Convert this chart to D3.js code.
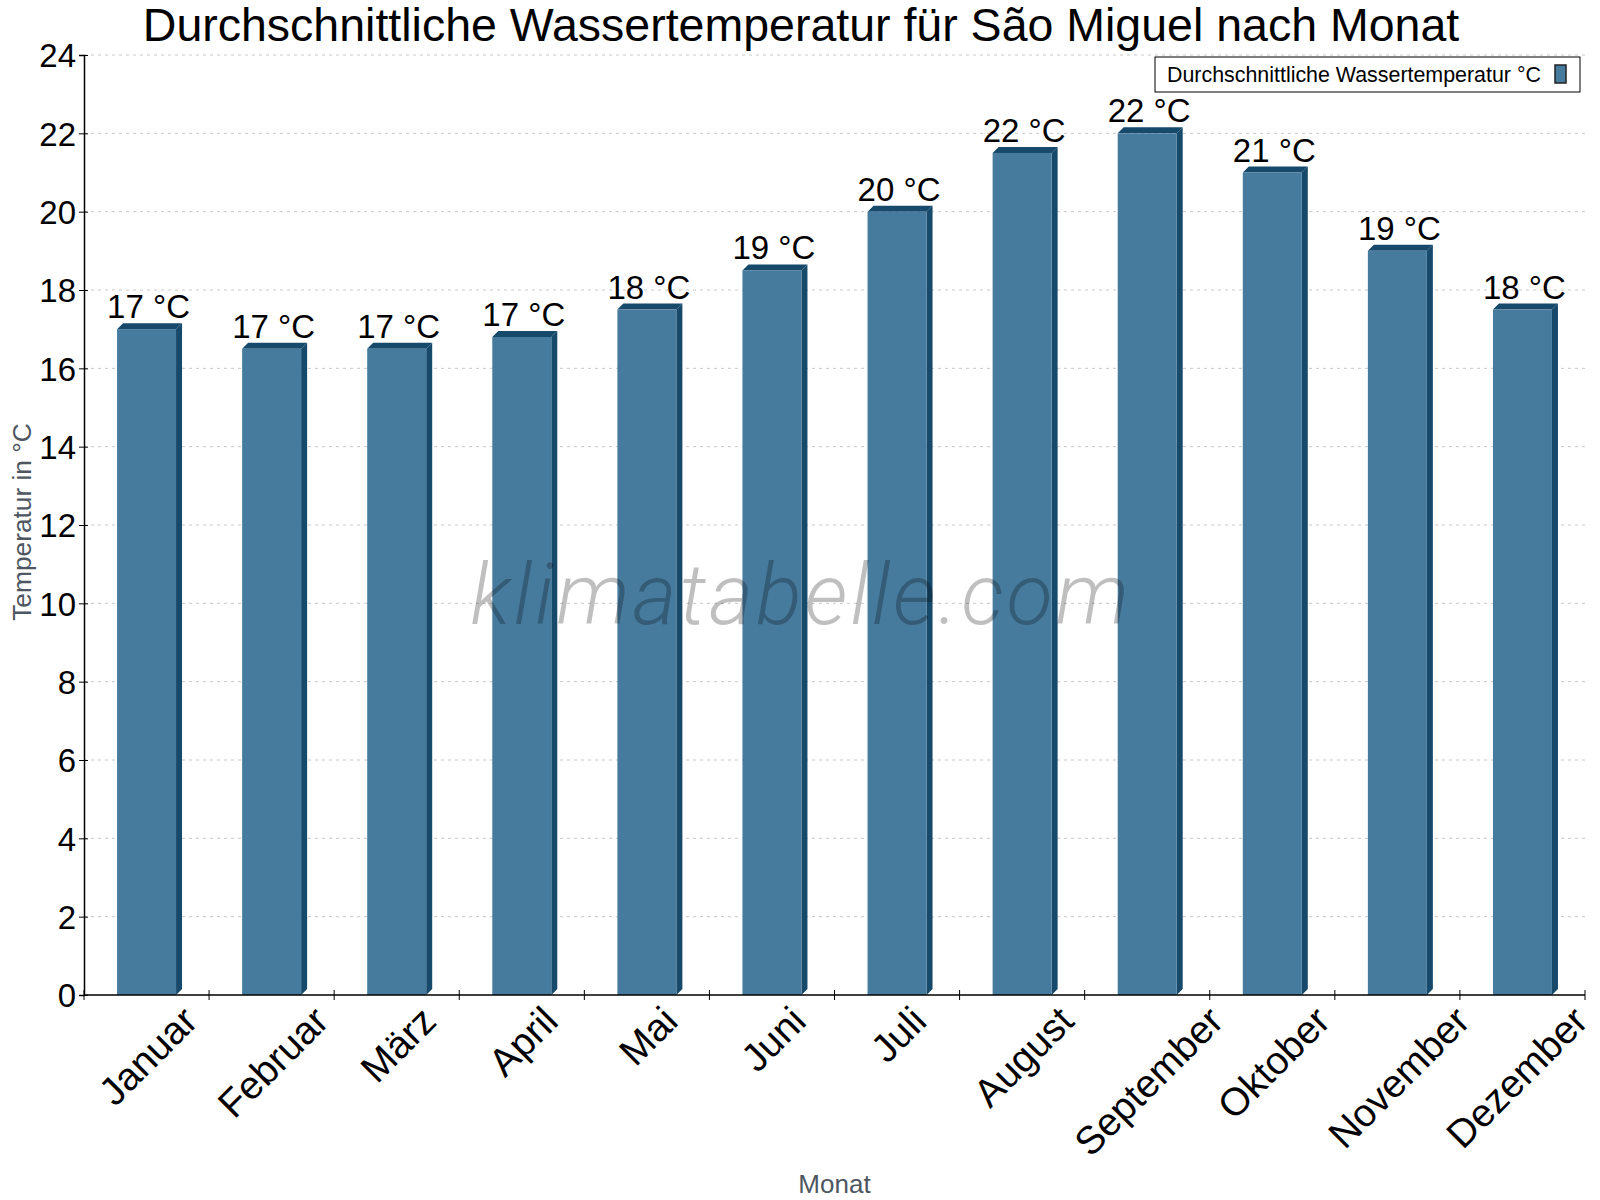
<!DOCTYPE html>
<html>
<head>
<meta charset="utf-8">
<script src="https://cdn.jsdelivr.net/npm/d3@7"></script>
<style>
  body { margin: 0; background: #ffffff; }
  svg { display: block; font-family: "Liberation Sans", Arial, sans-serif; }
</style>
</head>
<body>
<svg id="chart" width="1600" height="1200"></svg>
<script>
const months = ["Januar", "Februar", "März", "April", "Mai", "Juni", "Juli", "August", "September", "Oktober", "November", "Dezember"];
const waterTemp = [17, 16.5, 16.5, 16.8, 17.5, 18.5, 20, 21.5, 22, 21, 19, 17.5];
const yTicks = [0, 2, 4, 6, 8, 10, 12, 14, 16, 18, 20, 22, 24];
const titleText = "Durchschnittliche Wassertemperatur für São Miguel nach Monat";
const seriesName = "Durchschnittliche Wassertemperatur °C";

const svg = d3.select("#chart");
const plotLeft = 84, plotRight = 1585, plotTop = 55, plotBottom = 995;
const depth = 6;
const frontColor = "#467b9e";
const sideColor = "#17496b";

const x = d3.scaleBand().domain(months).range([plotLeft, plotRight]);
const y = d3.scaleLinear().domain([0, 24]).range([plotBottom, plotTop]);

// grid
svg.append("g")
  .selectAll("line")
  .data(yTicks.filter(d => d > 0))
  .join("line")
  .attr("x1", plotLeft).attr("x2", plotRight)
  .attr("y1", d => y(d)).attr("y2", d => y(d))
  .attr("stroke", "#c8c8c8")
  .attr("stroke-width", 1)
  .attr("stroke-dasharray", "3,4");

// bars
const barW = 59;
const bars = svg.append("g").selectAll("g").data(months).join("g");
bars.each(function (m, i) {
  const g = d3.select(this);
  const x0 = x(m) + x.bandwidth() / 2 - barW / 2;
  const x1 = x0 + barW;
  const yt = y(waterTemp[i]);
  g.append("polygon")
    .attr("points", [[x1, yt], [x1 + depth, yt - depth], [x1 + depth, plotBottom - depth], [x1, plotBottom]].join(" "))
    .attr("fill", sideColor);
  g.append("polygon")
    .attr("points", [[x0, yt], [x0 + depth, yt - depth], [x1 + depth, yt - depth], [x1, yt]].join(" "))
    .attr("fill", sideColor);
  g.append("rect")
    .attr("x", x0).attr("y", yt)
    .attr("width", barW).attr("height", plotBottom - yt)
    .attr("fill", frontColor);
  g.append("text")
    .attr("x", x0 + barW / 2 + 2)
    .attr("y", yt - 11)
    .attr("text-anchor", "middle")
    .style("font-size", "33px")
    .attr("fill", "#000")
    .text(Math.round(waterTemp[i]) + " °C");
});

// watermark (over the bars, semi transparent)
svg.append("text")
  .attr("x", 801).attr("y", 624)
  .attr("text-anchor", "middle")
  .style("font-family", "Roboto, 'Open Sans', sans-serif")
  .style("font-weight", 300)
  .style("font-style", "italic")
  .style("font-size", "85px")
  .style("letter-spacing", "2.9px")
  .attr("fill", "#000")
  .attr("fill-opacity", 0.25)
  .text("klimatabelle.com");

// y axis
const yAxis = svg.append("g")
  .attr("transform", `translate(${plotLeft},0)`)
  .call(d3.axisLeft(y).tickValues(yTicks).tickSize(5).tickPadding(3));
yAxis.select(".domain").attr("stroke", "#000").attr("stroke-width", 1.5);
yAxis.selectAll(".tick line").attr("x2", 4).attr("x1", -5).attr("stroke", "#000");
yAxis.selectAll(".tick text")
  .style("font-size", "33px")
  .style("font-family", "'Liberation Sans', Arial, sans-serif")
  .attr("fill", "#000")
  .attr("dy", "0.36em");

// x axis
const bounds = d3.range(months.length + 1).map(i => plotLeft + i * x.step());
svg.append("line")
  .attr("x1", plotLeft).attr("x2", plotRight)
  .attr("y1", plotBottom).attr("y2", plotBottom)
  .attr("stroke", "#000").attr("stroke-width", 1.5);
svg.append("g").selectAll("line").data(bounds).join("line")
  .attr("x1", d => d).attr("x2", d => d)
  .attr("y1", plotBottom - 5).attr("y2", plotBottom + 5)
  .attr("stroke", "#000");

// rotated month labels: box centred under the band, tops aligned
const labelSize = 39;
const c45 = Math.SQRT1_2;
svg.append("g").selectAll("text").data(months).join("text")
  .style("font-size", labelSize + "px")
  .attr("fill", "#000")
  .text(d => d)
  .attr("transform", function (d) {
    const L = this.getComputedTextLength();
    const half = c45 * (L + 0.716 * labelSize) / 2;
    const cx = Math.min(x(d) + x.bandwidth() / 2 + 1, 1590 - half);
    const ax = cx - c45 * (L - 0.716 * labelSize) / 2;
    const ay = plotBottom + 14 + c45 * (L + 0.52 * labelSize);
    return `translate(${ax},${ay}) rotate(-45)`;
  });

// axis titles
svg.append("text")
  .attr("transform", `translate(31,522) rotate(-90)`)
  .attr("text-anchor", "middle")
  .style("font-size", "26.3px")
  .attr("fill", "#4d5661")
  .text("Temperatur in °C");
svg.append("text")
  .attr("x", (plotLeft + plotRight) / 2).attr("y", 1193)
  .attr("text-anchor", "middle")
  .style("font-size", "26px")
  .attr("fill", "#4d5661")
  .text("Monat");

// title
svg.append("text")
  .attr("x", 801).attr("y", 41)
  .attr("text-anchor", "middle")
  .style("font-size", "46.5px")
  .attr("fill", "#000")
  .text(titleText);

// legend
const legend = svg.append("g");
legend.append("rect")
  .attr("x", 1155).attr("y", 57)
  .attr("width", 425).attr("height", 35)
  .attr("fill", "#fff").attr("stroke", "#000").attr("stroke-width", 1);
legend.append("text")
  .attr("x", 1167).attr("y", 82)
  .style("font-size", "21.4px")
  .attr("fill", "#000")
  .text(seriesName);
legend.append("rect")
  .attr("x", 1555).attr("y", 65)
  .attr("width", 11).attr("height", 18)
  .attr("fill", frontColor).attr("stroke", "#222").attr("stroke-width", 1.5);
</script>
</body>
</html>
